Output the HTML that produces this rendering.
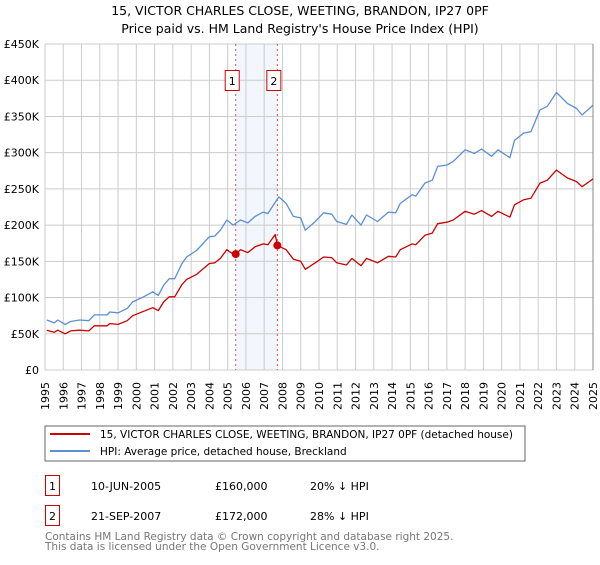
<!DOCTYPE html>
<html><head><meta charset="utf-8">
<style>
body{margin:0;background:#fff;font-family:"Liberation Sans","DejaVu Sans",sans-serif;}
svg text{font-family:"DejaVu Sans","Liberation Sans",sans-serif;}
</style></head>
<body>
<svg id="chart" width="600" height="560" xmlns="http://www.w3.org/2000/svg">
<text x="300" y="15" text-anchor="middle" font-size="12.5" fill="#000">15, VICTOR CHARLES CLOSE, WEETING, BRANDON, IP27 0PF</text>
<text x="300" y="33" text-anchor="middle" font-size="12.5" fill="#000">Price paid vs. HM Land Registry's House Price Index (HPI)</text>
<g id="plot"></g>
<g>
<rect x="45" y="426" width="480" height="35" fill="#fff" stroke="#666" stroke-width="1"/>
<line x1="50" y1="434" x2="90" y2="434" stroke="#cc0000" stroke-width="2"/>
<text x="100" y="438" font-size="10.5">15, VICTOR CHARLES CLOSE, WEETING, BRANDON, IP27 0PF (detached house)</text>
<line x1="50" y1="451" x2="90" y2="451" stroke="#5b8fd6" stroke-width="2"/>
<text x="100" y="455" font-size="10.5">HPI: Average price, detached house, Breckland</text>
</g>
<g font-size="11">
<rect x="45.5" y="475.5" width="14" height="20" fill="#fff" stroke="#cc0000"/>
<text x="52.5" y="490" text-anchor="middle">1</text>
<text x="91" y="490">10-JUN-2005</text>
<text x="215" y="490">£160,000</text>
<text x="310" y="490">20% ↓ HPI</text>
<rect x="45.5" y="505.5" width="14" height="20" fill="#fff" stroke="#cc0000"/>
<text x="52.5" y="520" text-anchor="middle">2</text>
<text x="91" y="520">21-SEP-2007</text>
<text x="215" y="520">£172,000</text>
<text x="310" y="520">28% ↓ HPI</text>
</g>
<text x="45" y="540" font-size="10.5" fill="#777">Contains HM Land Registry data © Crown copyright and database right 2025.</text>
<text x="45" y="550" font-size="10.5" fill="#777">This data is licensed under the Open Government Licence v3.0.</text>
</svg>
<script>
const yTicks=[0,50,100,150,200,250,300,350,400,450];
const yTickLabels=["£0","£50K","£100K","£150K","£200K","£250K","£300K","£350K","£400K","£450K"];
const years=[1995,1996,1997,1998,1999,2000,2001,2002,2003,2004,2005,2006,2007,2008,2009,2010,2011,2012,2013,2014,2015,2016,2017,2018,2019,2020,2021,2022,2023,2024,2025];
const hpiT=[1995.1,1995.5,1995.7,1996.1,1996.4,1996.9,1997.4,1997.7,1998.4,1998.55,1999.0,1999.5,1999.8,2000.4,2000.9,2001.2,2001.5,2001.8,2002.1,2002.5,2002.75,2003.3,2004.0,2004.3,2004.6,2004.95,2005.3,2005.7,2006.1,2006.5,2006.95,2007.2,2007.8,2008.2,2008.6,2009.0,2009.25,2009.8,2010.25,2010.7,2010.97,2011.5,2011.8,2012.3,2012.6,2013.2,2013.8,2014.2,2014.45,2015.1,2015.3,2015.8,2016.2,2016.5,2017.0,2017.35,2018.0,2018.5,2018.9,2019.45,2019.8,2020.45,2020.7,2021.2,2021.6,2022.1,2022.5,2023.0,2023.6,2024.1,2024.4,2024.85,2025.0];
const hpiV=[69,65,69,63,67,69,68,76,76,80,79,85,94,101,108,103,117,126,126,147,156,165,184,185,193,207,200,207,203,212,218,216,239,230,212,210,193,205,217,215,205,201,214,200,214,205,218,217,230,242,240,258,262,281,283,288,304,299,305,295,304,293,317,327,329,359,364,383,368,361,352,362,366];
const propT=[1995.1,1995.5,1995.7,1996.1,1996.4,1996.9,1997.4,1997.7,1998.4,1998.55,1999.0,1999.5,1999.8,2000.4,2000.9,2001.2,2001.5,2001.8,2002.1,2002.5,2002.75,2003.3,2004.0,2004.3,2004.6,2004.95,2005.3,2005.44,2005.7,2006.1,2006.5,2006.95,2007.2,2007.6,2007.72,2008.2,2008.6,2009.0,2009.25,2009.8,2010.25,2010.7,2010.97,2011.5,2011.8,2012.3,2012.6,2013.2,2013.8,2014.2,2014.45,2015.1,2015.3,2015.8,2016.2,2016.5,2017.0,2017.35,2018.0,2018.5,2018.9,2019.45,2019.8,2020.45,2020.7,2021.2,2021.6,2022.1,2022.5,2023.0,2023.6,2024.1,2024.4,2024.85,2025.0];
const propV=[55,52,55,50,54,55,54,61,61,64,63,68,75,81,86,82,94,101,101,118,125,132,147,148,154,166,160,160,166,162,170,174,173,187,172,166,153,150,139,148,156,155,148,145,154,144,154,148,157,156,166,174,173,186,189,202,204,207,219,215,220,212,219,211,228,235,237,258,262,276,265,260,253,261,264];
const saleT=[2005.44,2007.72];
const saleV=[160,172];
const saleLabels=["1","2"];

const NS="http://www.w3.org/2000/svg";
const L=45,R=593,T=44,B=370,x0=1995,x1=2025,yMax=450;
const X=t=>L+(t-x0)/(x1-x0)*(R-L);
const Y=v=>B-v/yMax*(B-T);
const g=document.getElementById('plot');
function mk(tag,a){const e=document.createElementNS(NS,tag);for(const k in a)e.setAttribute(k,a[k]);g.appendChild(e);return e;}
let sh=mk('rect',{x:X(saleT[0]),y:T,width:X(saleT[1])-X(saleT[0]),height:B-T,fill:'#f2f6fd'});


years.forEach((yr,i)=>{
  let l=mk('line',{x1:X(yr),x2:X(yr),y1:T,y2:B,stroke:'#cccccc','stroke-width':1});
  
  
  let t=mk('text',{x:0,y:0,'font-size':11,'text-anchor':'end',transform:`translate(${X(yr)+4},382) rotate(-90)`});
  t.textContent=yr;
  
  
});
yTicks.forEach((v,i)=>{
  let l=mk('line',{x1:L,x2:R,y1:Y(v),y2:Y(v),stroke:'#cccccc','stroke-width':1});
  
  
  let t=mk('text',{x:L-6,y:Y(v)+4,'font-size':11,'text-anchor':'end'});
  t.textContent=yTickLabels[i];
  
  
});
let ra=mk('line',{x1:R,x2:R,y1:T,y2:B,stroke:'#888','stroke-width':1});


saleT.forEach((t,i)=>{
  let l=mk('line',{x1:X(t),x2:X(t),y1:T,y2:B,stroke:'#e05050','stroke-width':1,'stroke-dasharray':'2,3'});
  
  
  let b=mk('rect',{x:X(t)-10.5,y:70.5,width:14,height:20,fill:'#fff',stroke:'#cc0000'});
  
  
  let tx=mk('text',{x:X(t)-3.5,y:85,'font-size':11,'text-anchor':'middle'});
  tx.textContent=saleLabels[i];
  
  
});
function line(ts,vs,c,name){
  let p=mk('polyline',{points:ts.map((t,i)=>X(t).toFixed(1)+','+Y(vs[i]).toFixed(1)).join(' '),fill:'none',stroke:c,'stroke-width':1.3,'stroke-linejoin':'round'});
  
  
}
line(hpiT,hpiV,'#5b8fd6','hpi-line');
line(propT,propV,'#cc0000','property-line');
saleT.forEach((t,i)=>{
  let c=mk('circle',{cx:X(t),cy:Y(saleV[i]),r:4,fill:'#cc0000'});
  
  
});
</script>
</body></html>
